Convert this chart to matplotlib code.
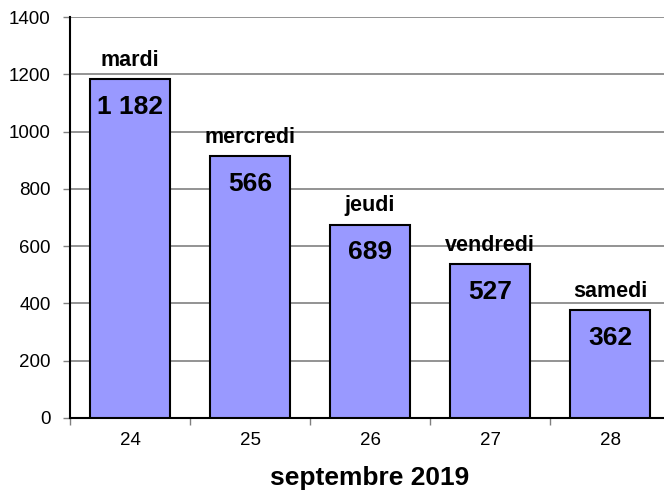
import numpy as np
import matplotlib
matplotlib.use('Agg')
import matplotlib.pyplot as plt

plt.rcParams['font.family'] = ['Liberation Sans', 'DejaVu Sans']

# data
days = ['24', '25', '26', '27', '28']
day_names = ['mardi', 'mercredi', 'jeudi', 'vendredi', 'samedi']
heights = [1182, 915, 675, 537, 376]
value_labels = ['1 182', '566', '689', '527', '362']

fig = plt.figure(figsize=(6.64, 4.93), dpi=100)
ax = fig.add_axes([70/664, 1 - 418/493, 600/664, 401/493])

x = np.arange(len(days))
bars = ax.bar(x, heights, width=0.667, color='#9999FF', edgecolor='black',
              linewidth=1.5, zorder=3)

for b, name, lab in zip(bars, day_names, value_labels):
    cx = b.get_x() + b.get_width() / 2
    top = b.get_height()
    ax.annotate(name, (cx, top), xytext=(0, 6), textcoords='offset points',
                ha='center', va='bottom', fontsize=15.5, fontweight='bold')
    ax.annotate(lab, (cx, top), xytext=(0, -20), textcoords='offset points',
                ha='center', va='center', fontsize=19, fontweight='bold')

ax.set_xlim(-0.5, len(days) - 0.5)
ax.set_ylim(0, 1400)
ax.set_yticks(np.arange(0, 1401, 200))
ax.yaxis.grid(True, color='#808080', linewidth=1.2, zorder=0)
ax.set_axisbelow(True)

ax.set_xticks(x)
ax.set_xticklabels(days)
ax.set_xticks(np.arange(-0.5, len(days)), minor=True)
ax.tick_params(axis='x', which='major', length=0, labelsize=13.5, pad=10)
ax.tick_params(axis='x', which='minor', length=5, width=1, color='#808080')
ax.tick_params(axis='y', length=5, width=1, labelsize=13.5, pad=9, color='#808080')

ax.spines['top'].set_visible(False)
ax.spines['right'].set_visible(False)
ax.spines['left'].set_linewidth(1.5)
ax.spines['bottom'].set_linewidth(1.5)

ax.set_xlabel('septembre 2019', fontsize=19, fontweight='bold', labelpad=12)

fig.savefig('out.png', dpi=100)
